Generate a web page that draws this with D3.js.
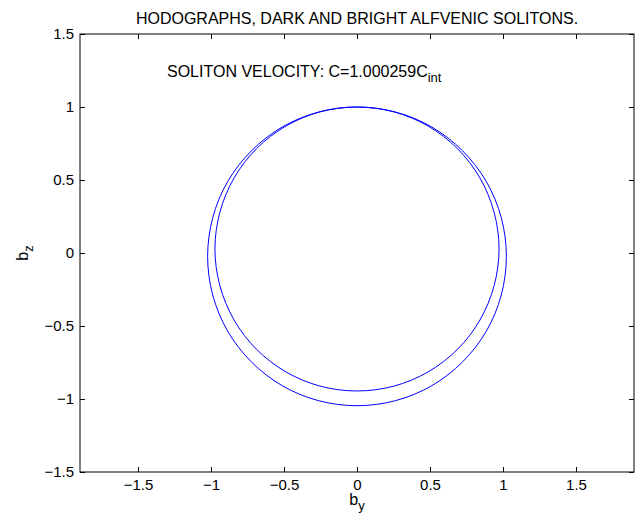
<!DOCTYPE html>
<html>
<head>
<meta charset="utf-8">
<script src="https://cdn.jsdelivr.net/npm/d3@7"></script>
<style>
  body { margin: 0; background: #fff; }
  text { font-family: "Liberation Sans", Arial, sans-serif; fill: #000; }
  .axis path, .axis line { stroke: #000; }
</style>
</head>
<body>
<script>
//svg size
var svgWidth = 640;
var svgHeight = 517;
//plot box
var margin = { top: 34, bottom: 45, left: 80, right: 6 };
var chartWidth = svgWidth - margin.left - margin.right;
var chartHeight = svgHeight - margin.top - margin.bottom;

//tick values
var xTicks = [-1.5, -1, -0.5, 0, 0.5, 1, 1.5];
var yTicks = [-1.5, -1, -0.5, 0, 0.5, 1, 1.5];

//hodograph points [by, bz]
var outerCurve = [
  [0, 1.000], [0.265, 0.965], [0.512, 0.863], [0.723, 0.700], [0.886, 0.489], [0.988, 0.242],
  [1.023, -0.023], [0.988, -0.288], [0.886, -0.535], [0.723, -0.746], [0.512, -0.909], [0.265, -1.011],
  [0, -1.046], [-0.265, -1.011], [-0.512, -0.909], [-0.723, -0.746], [-0.886, -0.535], [-0.988, -0.288],
  [-1.023, -0.023], [-0.988, 0.242], [-0.886, 0.489], [-0.723, 0.700], [-0.512, 0.863], [-0.265, 0.965]
];
var innerCurve = [
  [0, 1.000], [0.252, 0.967], [0.486, 0.870], [0.688, 0.715], [0.842, 0.514], [0.939, 0.279],
  [0.973, 0.028], [0.939, -0.224], [0.842, -0.459], [0.688, -0.660], [0.486, -0.815], [0.252, -0.912],
  [0, -0.945], [-0.252, -0.912], [-0.486, -0.815], [-0.688, -0.660], [-0.842, -0.459], [-0.939, -0.224],
  [-0.973, 0.028], [-0.939, 0.279], [-0.842, 0.514], [-0.688, 0.715], [-0.486, 0.870], [-0.252, 0.967]
];

var svg = d3.select("body")
  .append("svg")
  .attr("width", svgWidth)
  .attr("height", svgHeight);

var chartGroup = svg.append("g")
  .attr("transform", `translate(${margin.left}, ${margin.top})`);

//equal aspect scales
var xScale = d3.scaleLinear()
  .domain([-1.897, 1.897])
  .range([0, chartWidth]);
var yScale = d3.scaleLinear()
  .domain([-1.5, 1.5])
  .range([chartHeight, 0]);

var fmt = d => d < 0 ? "\u2212" + Math.abs(d) : String(d);

//box
chartGroup.append("rect")
  .attr("width", chartWidth)
  .attr("height", chartHeight)
  .attr("fill", "none")
  .attr("stroke", "#000");

//axes, ticks point inward
chartGroup.append("g")
  .classed("axis", true)
  .attr("transform", `translate(0, ${chartHeight})`)
  .call(d3.axisBottom(xScale).tickValues(xTicks).tickFormat(fmt).tickSizeInner(-5).tickSizeOuter(0).tickPadding(7));
chartGroup.append("g")
  .classed("axis", true)
  .call(d3.axisTop(xScale).tickValues(xTicks).tickFormat("").tickSizeInner(-5).tickSizeOuter(0));
chartGroup.append("g")
  .classed("axis", true)
  .call(d3.axisLeft(yScale).tickValues(yTicks).tickFormat(fmt).tickSizeInner(-5).tickSizeOuter(0).tickPadding(6));
chartGroup.append("g")
  .classed("axis", true)
  .attr("transform", `translate(${chartWidth}, 0)`)
  .call(d3.axisRight(yScale).tickValues(yTicks).tickFormat("").tickSizeInner(-5).tickSizeOuter(0));

chartGroup.selectAll(".axis text").style("font-size", "15px").style("font-family", "'Liberation Sans', Arial, sans-serif");
chartGroup.selectAll(".axis .domain").remove();

//curves
var drawLine = d3.line()
  .x(d => xScale(d[0]))
  .y(d => yScale(d[1]))
  .curve(d3.curveCatmullRomClosed);

[outerCurve, innerCurve].forEach(function(pts) {
  chartGroup.append("path")
    .attr("d", drawLine(pts))
    .attr("fill", "none")
    .attr("stroke", "#0000ff")
    .attr("stroke-width", 1);
});

//title
svg.append("text")
  .attr("x", margin.left + chartWidth / 2)
  .attr("y", 24)
  .attr("text-anchor", "middle")
  .style("font-size", "16px")
  .text("HODOGRAPHS, DARK AND BRIGHT ALFVENIC SOLITONS.");

//annotation
var note = svg.append("text")
  .attr("x", 167)
  .attr("y", 77)
  .style("font-size", "16px");
note.append("tspan").text("SOLITON VELOCITY: C=1.000259C");
note.append("tspan").attr("dy", 5).style("font-size", "13px").text("int");

//axis labels
var xl = svg.append("text")
  .attr("x", margin.left + xScale(0))
  .attr("y", 505)
  .attr("text-anchor", "middle")
  .style("font-size", "16px");
xl.append("tspan").text("b");
xl.append("tspan").attr("dy", 5).style("font-size", "13px").text("y");

var yl = svg.append("text")
  .attr("transform", `translate(28, ${margin.top + yScale(0)}) rotate(-90)`)
  .attr("text-anchor", "middle")
  .style("font-size", "16px");
yl.append("tspan").text("b");
yl.append("tspan").attr("dy", 5).style("font-size", "13px").text("z");
</script>
</body>
</html>
